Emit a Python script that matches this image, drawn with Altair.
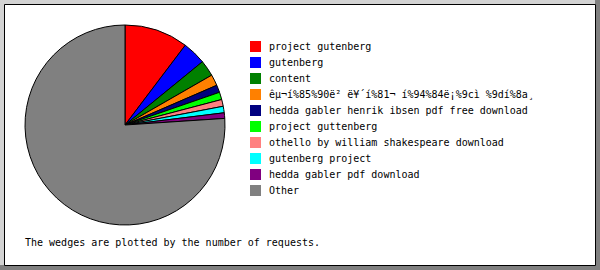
import altair as alt
import pandas as pd

labels = [
    "project gutenberg",
    "gutenberg",
    "content",
    "êµ¬í%85%90ë²\u00a0ë¥´í%81¬ í%94%84ë¡%9cì\u00a0%9dí%8a¸",
    "hedda gabler henrik ibsen pdf free download",
    "project guttenberg",
    "othello by william shakespeare download",
    "gutenberg project",
    "hedda gabler pdf download",
    "Other",
]
values = [10.3, 3.8, 2.6, 1.8, 1.2, 1.2, 1.1, 1.05, 0.9, 76.05]
colors = ["#ff0000", "#0000ff", "#008000", "#ff8000", "#000080",
          "#00ff00", "#ff8080", "#00ffff", "#800080", "#808080"]
footer = ["The wedges are plotted by the number of requests."]

df = pd.DataFrame({"label": labels, "value": values, "idx": list(range(len(labels)))})
ft = pd.DataFrame({"t": footer})

FONT = "DejaVu Sans Mono"

# frame decoration (light bevel on top/left; dark background shows at right/bottom)
frame = alt.Chart(pd.DataFrame({"a": [0]})).mark_rect(color="#d3d3d3", clip=False).encode(
    x=alt.value(-4), x2=alt.value(591), y=alt.value(-4), y2=alt.value(261)
)
inner = alt.Chart(pd.DataFrame({"a": [0]})).mark_rect(
    color="white", stroke="black", strokeWidth=1, clip=False
).encode(x=alt.value(0.5), x2=alt.value(591.5), y=alt.value(0.5), y2=alt.value(261.5))

pie = alt.Chart(df).mark_arc(outerRadius=100, stroke="black", strokeWidth=1).encode(
    theta=alt.Theta("value:Q", stack=True),
    order=alt.Order("idx:Q"),
    color=alt.Color(
        "label:N",
        scale=alt.Scale(domain=labels, range=colors),
        sort=labels,
        legend=alt.Legend(
            title=None,
            orient="none",
            legendX=246,
            legendY=37,
            symbolType="square",
            symbolSize=121,
            symbolStrokeWidth=0,
            symbolOpacity=1,
            labelFont=FONT,
            labelFontSize=10,
            labelColor="black",
            labelOffset=8,
            labelLimit=400,
            rowPadding=5,
            padding=0,
        ),
    ),
    x=alt.value(121),
    y=alt.value(121),
)

text = alt.Chart(ft).mark_text(
    align="left", baseline="alphabetic", font=FONT, fontSize=10, color="black"
).encode(text="t:N", x=alt.value(21), y=alt.value(242))

chart = alt.layer(frame, inner, pie, text).properties(
    width=591, height=261,
    padding={"left": 4, "top": 4, "right": 5, "bottom": 5},
    autosize=alt.AutoSizeParams(type="none"),
    background="#808080",
).configure_view(stroke=None)

chart.save("out.html", embed_options={"renderer": "svg", "actions": False})
